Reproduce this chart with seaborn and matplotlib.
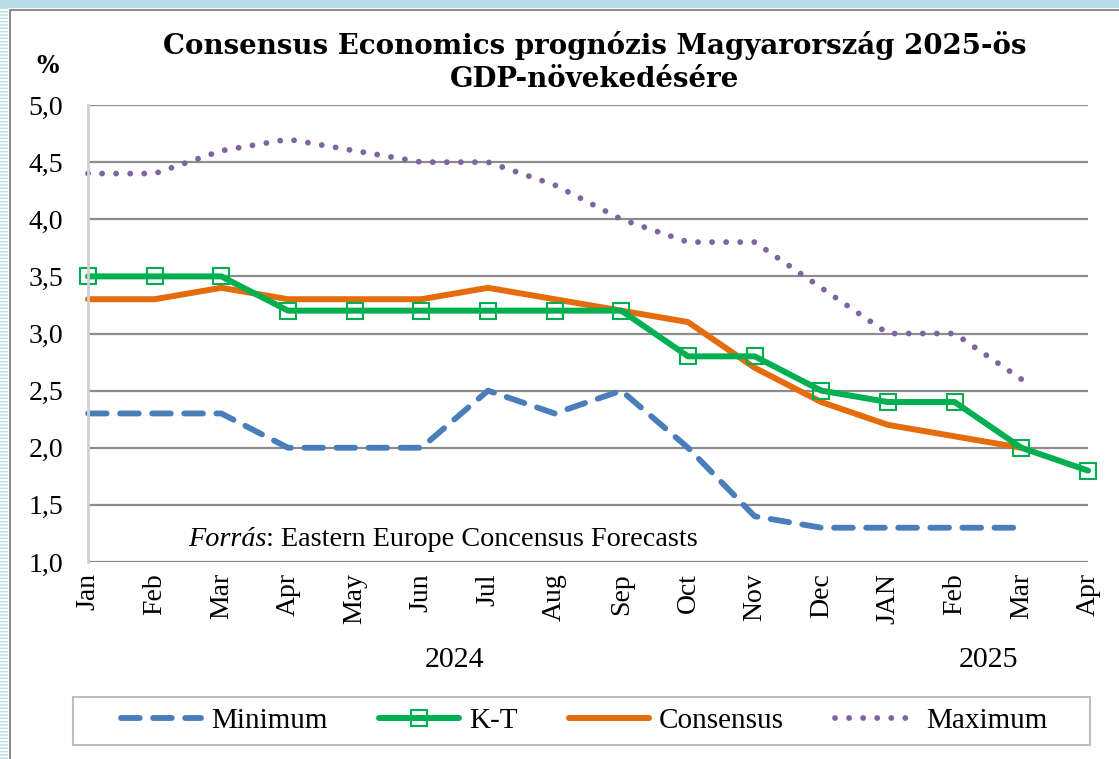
import numpy as np
import pandas as pd
import matplotlib
matplotlib.use("Agg")
import matplotlib.pyplot as plt
import seaborn as sns
from matplotlib.patches import Rectangle
from matplotlib.lines import Line2D

months = ["Jan", "Feb", "Mar", "Apr", "May", "Jun", "Jul", "Aug", "Sep",
          "Oct", "Nov", "Dec", "JAN", "Feb", "Mar", "Apr"]
minimum = [2.3, 2.3, 2.3, 2.0, 2.0, 2.0, 2.5, 2.3, 2.5, 2.0, 1.4, 1.3, 1.3, 1.3, 1.3, np.nan]
kt = [3.5, 3.5, 3.5, 3.2, 3.2, 3.2, 3.2, 3.2, 3.2, 2.8, 2.8, 2.5, 2.4, 2.4, 2.0, 1.8]
consensus = [3.3, 3.3, 3.4, 3.3, 3.3, 3.3, 3.4, 3.3, 3.2, 3.1, 2.7, 2.4, 2.2, 2.1, 2.0, np.nan]
maximum = [4.4, 4.4, 4.6, 4.7, 4.6, 4.5, 4.5, 4.3, 4.0, 3.8, 3.8, 3.4, 3.0, 3.0, 2.6, np.nan]
series_names = ["Minimum", "K-T", "Consensus", "Maximum"]
year_labels = ["2024", "2025"]
title = "Consensus Economics prognózis Magyarország 2025-ös\nGDP-növekedésére"
source_italic = "Forrás"
source_rest = ": Eastern Europe Concensus Forecasts"

sns.set_theme(style="white")
plt.rcParams["font.family"] = ["Liberation Serif", "DejaVu Serif"]
plt.rcParams["text.color"] = "black"
plt.rcParams["xtick.color"] = "black"
plt.rcParams["ytick.color"] = "black"
plt.rcParams["xtick.labelcolor"] = "black"
plt.rcParams["ytick.labelcolor"] = "black"

C_MIN, C_KT, C_CON, C_MAX = "#4a7ebb", "#00b050", "#e46c0a", "#8064a2"
MIN_STYLE = dict(color=C_MIN, lw=4.2, linestyle=(0, (3.2, 2.3)), dash_capstyle="round")
KT_STYLE = dict(color=C_KT, lw=4.3, marker="s", markersize=11, markerfacecolor="none",
                markeredgecolor=C_KT, markeredgewidth=1.5)
CON_STYLE = dict(color=C_CON, lw=4.3, solid_capstyle="round")
MAX_STYLE = dict(color=C_MAX, lw=4.2, linestyle=(0, (0.01, 2.4)), dash_capstyle="round")

W, H = 1119, 759
fig = plt.figure(figsize=(W / 100, H / 100), dpi=100)
fig.patch.set_facecolor("white")

# decorative frame
fig.patches.append(Rectangle((0, 0), 8 / W, 1, transform=fig.transFigure,
                             facecolor="white", edgecolor="#b7dde8", hatch="-----",
                             lw=0, zorder=0))
fig.patches.append(Rectangle((0, 1 - 8 / H), 1, 8 / H, transform=fig.transFigure,
                             facecolor="#b7dde8", lw=0, zorder=0))
fig.add_artist(Line2D([10 / W, 10 / W], [0, 1 - 10 / H], transform=fig.transFigure,
                      color="#8c8c8c", lw=1.5))
fig.add_artist(Line2D([10 / W, 1], [1 - 10 / H, 1 - 10 / H], transform=fig.transFigure,
                      color="#8c8c8c", lw=1.5))

ax = fig.add_axes([88 / W, 1 - 562 / H, 1000 / W, 457 / H])
ax.set_facecolor("white")

df = pd.DataFrame({"x": np.arange(len(months)), "Minimum": minimum, "K-T": kt,
                   "Consensus": consensus, "Maximum": maximum})

sns.lineplot(data=df, x="x", y="Maximum", ax=ax, **MAX_STYLE)
sns.lineplot(data=df, x="x", y="Minimum", ax=ax, **MIN_STYLE)
sns.lineplot(data=df, x="x", y="Consensus", ax=ax, **CON_STYLE)
sns.lineplot(data=df, x="x", y="K-T", ax=ax, **KT_STYLE)
for ln in ax.lines:
    ln.set_clip_on(False)
ax.lines[0].set_dash_capstyle("round")
ax.lines[1].set_dash_capstyle("round")

ax.set_xlim(0, len(months) - 1)
ax.set_ylim(1.0, 5.0)
yt = np.arange(1.0, 5.01, 0.5)
ax.set_yticks(yt)
ax.set_yticklabels([f"{v:.1f}".replace(".", ",") for v in yt], fontsize=20)
ax.set_xticks(np.arange(len(months)))
ax.set_xticklabels(months, rotation=90, fontsize=20)
ax.tick_params(axis="x", length=0, pad=8)
ax.tick_params(axis="y", length=0, pad=18)
ax.set_xlabel("")
ax.set_ylabel("")
ax.grid(axis="y", color="#8c8c8c", lw=1.6)
ax.set_axisbelow(True)
for s in ["top", "right", "bottom"]:
    ax.spines[s].set_visible(False)
ax.spines["left"].set_color("#d0d0d0")
ax.spines["left"].set_linewidth(2)

# year labels (centred under their category groups)
ax.text(5.5, -0.215, year_labels[0], transform=ax.get_xaxis_transform(),
        ha="center", va="center", fontsize=21.5, color="black")
ax.text(13.5, -0.215, year_labels[1], transform=ax.get_xaxis_transform(),
        ha="center", va="center", fontsize=21.5, color="black")

# percent label
fig.text(48 / W, 1 - 66 / H, "%", ha="center", va="center", fontsize=17,
         fontweight="bold", family=["DejaVu Serif"], color="black")

# title
fig.text(595 / W, 1 - 62 / H, title, ha="center", va="center", fontsize=19.9,
         fontweight="heavy", family=["DejaVu Serif"], linespacing=1.3, color="black")

# source
t1 = ax.text(1.5, 1.085, source_italic, fontsize=20.3, style="italic",
             ha="left", va="bottom", color="black")
ax.annotate(source_rest, xy=(1, 0), xycoords=t1, fontsize=20.3,
            ha="left", va="bottom", color="black")

# legend
fig.patches.append(Rectangle((73 / W, 1 - 745 / H), 1017 / W, 48 / H,
                             transform=fig.transFigure, facecolor="white",
                             edgecolor="#bfbfbf", lw=1.5, zorder=1))
handles = [Line2D([], [], **MIN_STYLE), Line2D([], [], **KT_STYLE),
           Line2D([], [], **CON_STYLE), Line2D([], [], **MAX_STYLE)]
leg = fig.legend(handles, series_names, loc="center",
                 bbox_to_anchor=(584 / W, 1 - 721 / H),
                 ncol=4, fontsize=21, frameon=False,
                 handlelength=2.75, handletextpad=0.35, columnspacing=1.75,
                 borderaxespad=0, borderpad=0)
for txt in leg.get_texts():
    txt.set_color("black")
leg.set_zorder(2)

fig.savefig("out.png", dpi=100, facecolor="white")
